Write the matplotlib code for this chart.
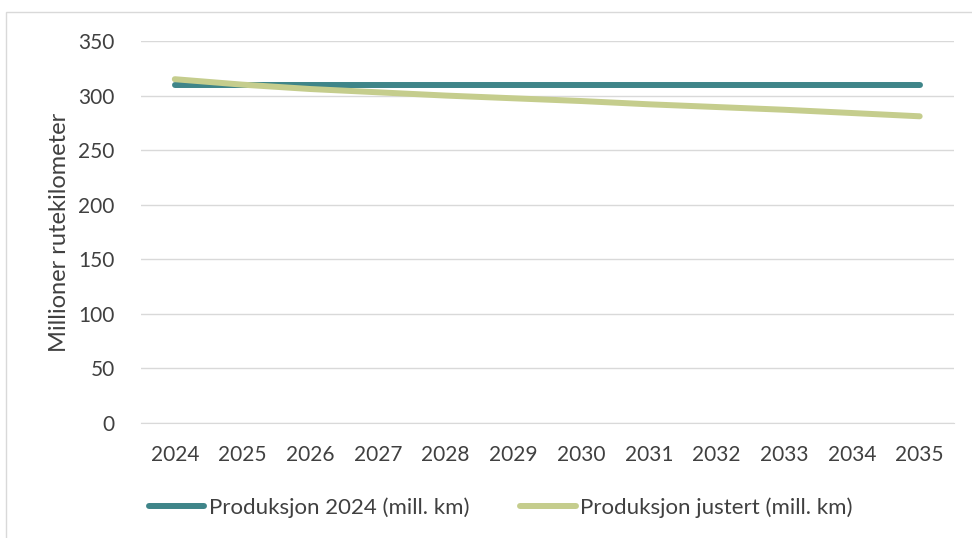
import matplotlib.pyplot as plt
from matplotlib.patches import Rectangle

years = [str(y) for y in range(2024, 2036)]
prod_2024 = [310, 310, 310, 310, 310, 310, 310, 310, 310, 310, 310, 310]
prod_justert = [315, 310, 306, 303, 300, 297.5, 295, 292, 289.5, 287, 284, 281]

plt.rcParams['font.family'] = ['Lato', 'DejaVu Sans']

fig = plt.figure(figsize=(9.72, 5.38), dpi=100)
ax = fig.add_axes([0.145, 0.2138, 0.836, 0.71])

# outer chart frame
fig.patches.append(Rectangle((6 / 972, -0.01), 1.0, 1 - 12 / 538 + 0.01,
                             transform=fig.transFigure, fill=False,
                             edgecolor='#D9D9D9', linewidth=1))

x = range(len(years))
ax.plot(x, prod_2024, color='#3F8589', linewidth=4.3, solid_capstyle='round',
        label='Produksjon 2024 (mill. km)')
ax.plot(x, prod_justert, color='#C5CD8D', linewidth=4.3, solid_capstyle='round',
        label='Produksjon justert (mill. km)')

ax.set_xlim(-0.5, len(years) - 0.5)
ax.set_ylim(0, 350)
ax.set_yticks(range(0, 351, 50))
ax.set_xticks(list(x))
ax.set_xticklabels(years)
ax.grid(axis='y', color='#D9D9D9', linewidth=1)
ax.set_axisbelow(True)
for s in ax.spines.values():
    s.set_visible(False)
ax.spines['bottom'].set_visible(True)
ax.spines['bottom'].set_color('#D9D9D9')
ax.tick_params(axis='both', length=0, labelsize=15, colors='#404040')
ax.tick_params(axis='x', pad=16)
ax.tick_params(axis='y', pad=19)
ax.set_ylabel('Millioner rutekilometer', fontsize=17, color='#404040', labelpad=6)

fig.legend(loc='center', bbox_to_anchor=(0.515, 0.056), ncol=2, frameon=False,
           fontsize=16, handlelength=2.5, handletextpad=0.2, columnspacing=2.3,
           labelcolor='#404040')

fig.savefig('out.png', dpi=100)
